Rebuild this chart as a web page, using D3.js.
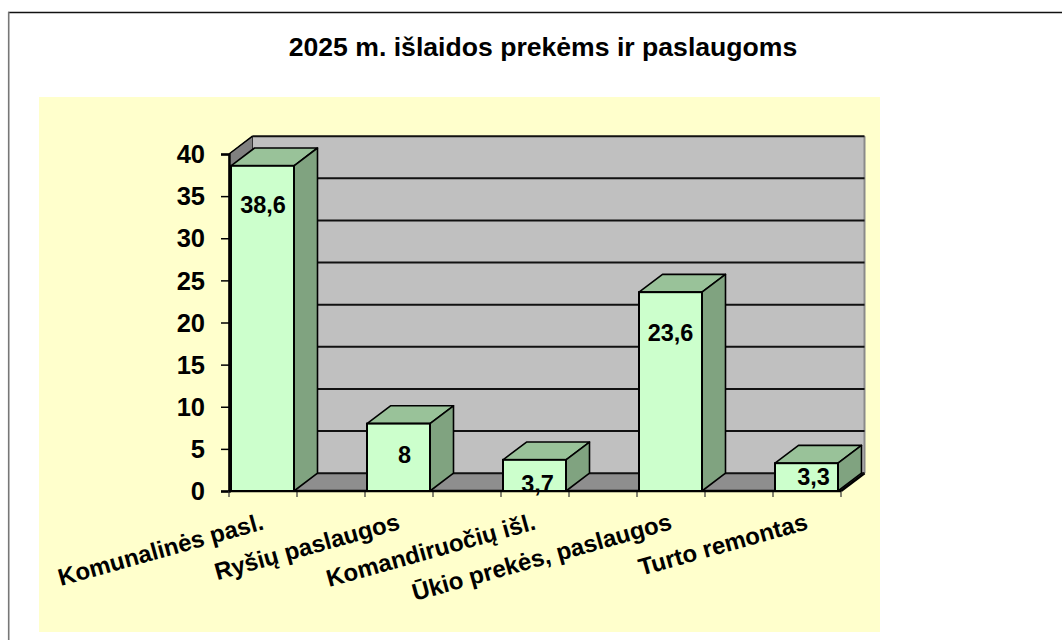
<!DOCTYPE html>
<html><head><meta charset="utf-8">
<script src="https://cdn.jsdelivr.net/npm/d3@7"></script>
<style>html,body{margin:0;padding:0;background:#fff}svg{display:block}text{font-family:"Liberation Sans",Arial,sans-serif;font-weight:bold;fill:#000}</style>
</head><body><svg id="c" width="1062" height="640"></svg>
<script>
const title = "2025 m. išlaidos prekėms ir paslaugoms";
const categories = ["Komunalinės pasl.","Ryšių paslaugos","Komandiruočių išl.","Ūkio prekės, paslaugos","Turto remontas"];
const values = [38.6, 8, 3.7, 23.6, 3.3];
const valueLabels = ["38,6","8","3,7","23,6","3,3"];
const yTicks = [0,5,10,15,20,25,30,35,40];

const svg = d3.select("#c");
const X0 = 229, STEP = 136, BAR = 63, DX = 23.5, DY = -17.8;
const x = d3.scaleBand().domain(categories).range([X0, X0 + STEP*5]);
const y = d3.scaleLinear().domain([0,40]).range([491,154]);
const X1 = X0 + STEP*4.5;
const pts = a => a.map(p=>p.join(",")).join(" ");
const K = "#000";

// page
svg.append("line").attr("x1",8).attr("x2",1062).attr("y1",12.5).attr("y2",12.5).attr("stroke","#111").attr("stroke-width",1.4);
svg.append("line").attr("x1",8.7).attr("x2",8.7).attr("y1",12).attr("y2",640).attr("stroke","#777").attr("stroke-width",1.6);
svg.append("rect").attr("x",39).attr("y",97).attr("width",841).attr("height",535).attr("fill","#FFFFCC");
svg.append("text").attr("x",543).attr("y",56).attr("text-anchor","middle").attr("font-size",26.6).text(title);

// walls
svg.append("polygon").attr("points",pts([[X0+DX,y(40)+DY],[X1+DX,y(40)+DY],[X1+DX,y(0)+DY],[X0+DX,y(0)+DY]])).attr("fill","#C0C0C0");
svg.append("polygon").attr("points",pts([[X0,y(40)],[X0+DX,y(40)+DY],[X0+DX,y(0)+DY],[X0,y(0)]])).attr("fill","#808080").attr("stroke","#333").attr("stroke-width",1);
svg.append("polygon").attr("points",pts([[X0,y(0)],[X0+DX,y(0)+DY],[X1+DX,y(0)+DY],[X1,y(0)]])).attr("fill","#8E8E8E");
svg.append("line").attr("x1",X1+DX).attr("x2",X1+DX).attr("y1",y(40)+DY).attr("y2",y(0)+DY).attr("stroke","#8a8a8a").attr("stroke-width",2);
svg.append("line").attr("x1",X1).attr("x2",X1+DX).attr("y1",y(0)).attr("y2",y(0)+DY).attr("stroke",K).attr("stroke-width",2.4);

// gridlines
svg.selectAll(".g").data(yTicks).enter().append("line")
  .attr("x1",X0+DX).attr("x2",X1+DX).attr("y1",d=>y(d)+DY).attr("y2",d=>y(d)+DY)
  .attr("stroke","#111").attr("stroke-width",2);
svg.append("line").attr("x1",X0).attr("x2",X0+DX).attr("y1",y(40)).attr("y2",y(40)+DY).attr("stroke",K).attr("stroke-width",1.5);

// axes
const gy = svg.append("g").attr("transform",`translate(${X0},0)`)
  .call(d3.axisLeft(y).tickValues(yTicks).tickSize(8).tickPadding(16).tickFormat(d3.format("d")));
gy.select(".domain").attr("stroke",K).attr("stroke-width",2.4);
gy.selectAll(".tick line").attr("stroke",K).attr("stroke-width",1.5);
gy.selectAll("text").attr("font-size",25.5).attr("dy","0.34em");
gy.attr("font-family",null);

const xTickPos = d3.range(10).map(i=>X0+i*STEP/2);
svg.selectAll(".xt").data(xTickPos).enter().append("line")
  .attr("x1",d=>d).attr("x2",d=>d).attr("y1",y(0)).attr("y2",y(0)+6).attr("stroke","#333").attr("stroke-width",1.2);
svg.append("line").attr("x1",X0).attr("x2",X1).attr("y1",y(0)).attr("y2",y(0)).attr("stroke",K).attr("stroke-width",2.6);

// bars
const bars = svg.selectAll(".bar").data(categories.map((c,i)=>({c,v:values[i],l:valueLabels[i]}))).enter().append("g");
const bx = d=>x(d.c)+2;
bars.append("polygon").attr("points",d=>pts([[bx(d),y(d.v)],[bx(d)+DX,y(d.v)+DY],[bx(d)+BAR+DX,y(d.v)+DY],[bx(d)+BAR,y(d.v)]]))
  .attr("fill","#99C299").attr("stroke",K).attr("stroke-width",1.6).attr("stroke-linejoin","round");
bars.append("polygon").attr("points",d=>pts([[bx(d)+BAR,y(d.v)],[bx(d)+BAR+DX,y(d.v)+DY],[bx(d)+BAR+DX,y(0)+DY],[bx(d)+BAR,y(0)]]))
  .attr("fill","#80A380").attr("stroke",K).attr("stroke-width",1.6).attr("stroke-linejoin","round");
bars.append("rect").attr("x",bx).attr("y",d=>y(d.v)).attr("width",BAR).attr("height",d=>y(0)-y(d.v))
  .attr("fill","#CCFFCC").attr("stroke",K).attr("stroke-width",2);

// value labels
const labelShift = [[0.5,47],[6,39],[3,32],[0,49],[7,22]];
bars.append("text").attr("text-anchor","middle").attr("font-size",23.5)
  .attr("x",(d,i)=>bx(d)+BAR/2+labelShift[i][0])
  .attr("y",(d,i)=>y(d.v)+labelShift[i][1]).text(d=>d.l);

// category labels
svg.selectAll(".cat").data(categories).enter().append("text")
  .attr("text-anchor","end").attr("font-size",24)
  .attr("transform",d=>`translate(${x(d)+STEP/2-32},${y(0)+38}) rotate(-15.6)`).text(d=>d);
</script></body></html>
